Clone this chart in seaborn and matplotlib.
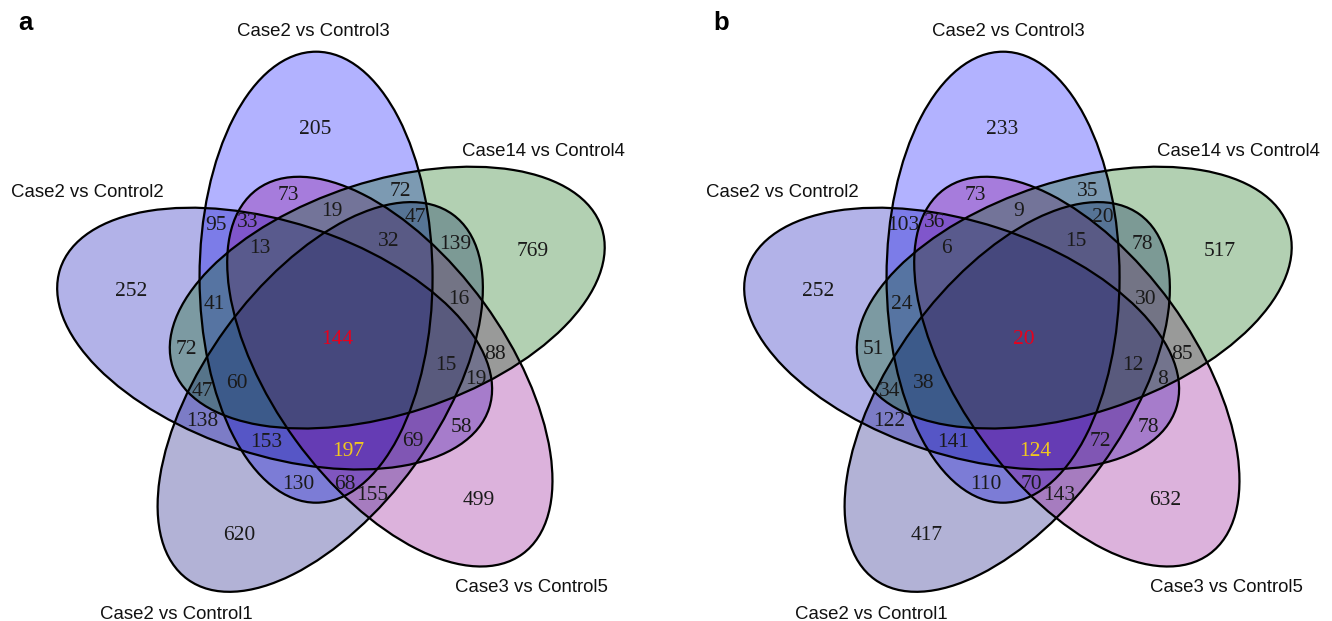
import numpy as np
import matplotlib
matplotlib.use("Agg")
import matplotlib.pyplot as plt
from matplotlib.patches import Ellipse
import seaborn as sns

sns.set_theme(style="white")
plt.rcParams["font.family"] = ["Liberation Sans", "DejaVu Sans"]

# set names, in drawing order of the ellipses (top, then clockwise)
set_names = ["Case2 vs Control3", "Case14 vs Control4", "Case3 vs Control5",
             "Case2 vs Control1", "Case2 vs Control2"]

# region counts (singles, pairs, triples, quads, all five); same order as label_pos
counts_a = [205, 769, 499, 620, 252,
            73, 72, 139, 88, 58, 155, 130, 138, 72, 95,
            47, 16, 19, 69, 68, 153, 47, 41, 33, 19,
            13, 32, 15, 197, 60,
            144]
counts_b = [233, 517, 632, 417, 252,
            73, 35, 78, 85, 78, 143, 110, 122, 51, 103,
            20, 30, 8, 72, 70, 141, 34, 24, 36, 9,
            6, 15, 12, 124, 38,
            20]
panels = ["a", "b"]

# ---- layout (pixels inside a 666x621 panel, for panel a) ----
label_pos = [(315.6, 126.7), (533, 248.3), (478.5, 497.7), (239.5, 532.7), (131, 288.3),
             (288, 193.3), (400.5, 188.3), (455, 241.7), (495, 351.7), (461.5, 425),
             (372.5, 492.7), (298.5, 481.7), (202.5, 418.3), (186.7, 346.7), (216.5, 222.7),
             (415.5, 215), (459, 296.7), (476, 376.7), (413, 439.3), (344.6, 481.7),
             (266, 440), (202.3, 388.3), (214.5, 301.7), (248, 220), (331.8, 208.3),
             (259.7, 246), (388.5, 239.3), (445.5, 363.3), (348.5, 448.3), (236.5, 381),
             (337, 336.7)]
special_color = {28: "#f2c81e", 30: "#e8001c"}
name_pos = [(313.4, 36), (543.5, 156.5), (531, 592.5), (176.5, 619), (87, 197.3)]

fills = ["#0000ff", "#006400", "#8b008b", "#000078", "#0000b4"]
fill_order = [0, 4, 3, 2, 1]
center = (337.6, 336.4)
dist, semi_major, semi_minor, start_angle = 63, 225.5, 116.5, 110
shift_venn = [0, 21]
shift_names = [0, 29]
letter_x = [18.3, 47.5]

fig = plt.figure(figsize=(13.32, 6.21), dpi=100)

for p, counts in enumerate([counts_a, counts_b]):
    ax = fig.add_axes([p * 0.5, 0, 0.5, 1])
    ax.set_xlim(0, 666)
    ax.set_ylim(621, 0)
    ax.axis("off")
    cx, cy = center[0] + shift_venn[p], center[1]

    shapes = []
    for k in range(5):
        th = np.radians(start_angle - 72 * k)
        xy = (cx + dist * np.cos(th), cy - dist * np.sin(th))
        shapes.append((xy, 72 * k))

    for k in fill_order:
        xy, ang = shapes[k]
        ax.add_patch(Ellipse(xy, 2 * semi_minor, 2 * semi_major, angle=ang,
                             facecolor=fills[k], alpha=0.3, edgecolor="none"))
    for xy, ang in shapes:
        ax.add_patch(Ellipse(xy, 2 * semi_minor, 2 * semi_major, angle=ang,
                             facecolor="none", edgecolor="black", lw=1.6))

    for i, (val, (x, y)) in enumerate(zip(counts, label_pos)):
        ax.text(x + shift_venn[p], y + 7.2, str(val), ha="center", va="baseline",
                fontsize=15.5, family=["Liberation Serif", "DejaVu Serif"],
                color=special_color.get(i, "#1a1a1a"))

    for name, (x, y) in zip(set_names, name_pos):
        ax.text(x + shift_names[p], y, name, ha="center", va="baseline",
                fontsize=13.4, color="#111111")

    ax.text(letter_x[p], 30, panels[p], ha="left", va="baseline",
            fontsize=18.5, fontweight="bold", color="black")

fig.savefig("out.png", dpi=100)
